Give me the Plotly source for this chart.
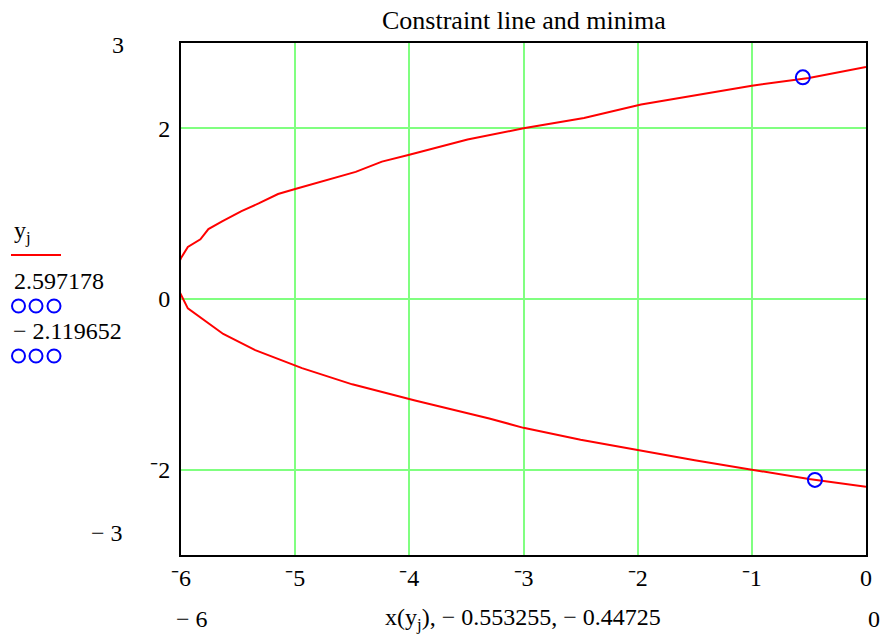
import plotly.graph_objects as go

# Constraint curve x(y_j) vs y_j
curve_x = [0.0, -0.5, -1.0, -1.5, -2.0, -2.5, -3.0, -3.3, -3.95, -4.24, -4.5, -4.94, -5.15,
           -5.35, -5.63, -5.79, -5.94, -6.0, -6.08, -6.0, -5.94, -5.83, -5.76, -5.64, -5.47,
           -5.32, -5.15, -5.0, -4.74, -4.47, -4.24, -4.0, -3.49, -3.0, -2.47, -1.97, -1.0,
           -0.5, 0.0]
curve_y = [-2.20, -2.11, -2.00, -1.89, -1.77, -1.65, -1.51, -1.40, -1.19, -1.09, -1.00, -0.81,
           -0.70, -0.60, -0.41, -0.25, -0.11, 0.05, 0.25, 0.48, 0.61, 0.70, 0.82, 0.91, 1.03,
           1.12, 1.23, 1.29, 1.39, 1.49, 1.61, 1.69, 1.87, 2.00, 2.12, 2.28, 2.50, 2.59, 2.72]

# Minima
min_x = [-0.553255, -0.44725]
min_y = [2.597178, -2.119652]

x_ticks = [-6, -5, -4, -3, -2, -1, 0]
x_ticktext = ["\u207b6", "\u207b5", "\u207b4", "\u207b3", "\u207b2", "\u207b1", "0"]
y_ticks = [-2, 0, 2]
y_ticktext = ["\u207b2", "0", "2"]

title = "Constraint line and minima"
x_label = "x(y<sub>j</sub>), \u2212 0.553255, \u2212 0.44725"

W, H = 880, 637
L, R, T, B = 181, 866, 43, 555
FONT = "Liberation Serif, Times New Roman, serif"
FS = 24

def px(x):
    return (x - L) / (R - L)

def py(y):
    return (B - y) / (B - T)

fig = go.Figure()
fig.add_trace(go.Scatter(x=curve_x, y=curve_y, mode="lines",
                         line=dict(color="#ff0000", width=2), showlegend=False))
fig.add_trace(go.Scatter(x=min_x, y=min_y, mode="markers",
                         marker=dict(symbol="circle-open", size=14,
                                     line=dict(color="#0000ff", width=2), color="#0000ff"),
                         showlegend=False))

annotations = []
def add_text(text, x, y, xanchor="center", color="black", size=FS):
    annotations.append(dict(text=text, x=px(x), y=py(y), xref="paper", yref="paper",
                            xanchor=xanchor, yanchor="middle", showarrow=False,
                            font=dict(family=FONT, size=size, color=color)))

add_text(title, 524, 20, size=26)
add_text(x_label, 523, 619)
add_text("\u2212 6", 192, 619)
add_text("0", 874, 619)
add_text("3", 118, 45)
add_text("\u2212 3", 107, 533)
add_text("y<sub>j</sub>", 12, 232, xanchor="left")
add_text("2.597178", 12, 281, xanchor="left")
add_text("\u2212 2.119652", 11, 331, xanchor="left")

shapes = [dict(type="line", xref="paper", yref="paper", x0=px(11), x1=px(61),
               y0=py(255), y1=py(255), line=dict(color="#ff0000", width=2))]
for cy in (306, 356):
    for cx in (18.5, 36, 54):
        shapes.append(dict(type="circle", xref="paper", yref="paper",
                           xsizemode="pixel", ysizemode="pixel",
                           xanchor=px(cx), yanchor=py(cy),
                           x0=-6.5, x1=6.5, y0=-6.5, y1=6.5,
                           line=dict(color="#0000ff", width=2)))

fig.update_layout(
    width=W, height=H, autosize=False,
    margin=dict(l=L, r=W - R, t=T, b=H - B, pad=0),
    paper_bgcolor="white", plot_bgcolor="white",
    font=dict(family=FONT, size=FS, color="black"),
    annotations=annotations, shapes=shapes, showlegend=False,
)
fig.update_xaxes(range=[-6, 0], tickvals=x_ticks, ticktext=x_ticktext,
                 showgrid=True, gridcolor="#80ff80", gridwidth=2,
                 showline=True, linecolor="black", linewidth=2, mirror=True,
                 zeroline=False, ticks="", ticklabelstandoff=0, automargin=False,
                 tickfont=dict(family=FONT, size=FS))
fig.update_yaxes(range=[-3, 3], tickvals=y_ticks, ticktext=y_ticktext,
                 showgrid=True, gridcolor="#80ff80", gridwidth=2,
                 showline=True, linecolor="black", linewidth=2, mirror=True,
                 zeroline=False, ticks="", ticklabelstandoff=4, automargin=False,
                 tickfont=dict(family=FONT, size=FS))

fig.write_html("out.html",
               config={"displayModeBar": False, "responsive": False},
               post_script="document.body.style.margin='0';document.body.style.overflow='hidden';")
